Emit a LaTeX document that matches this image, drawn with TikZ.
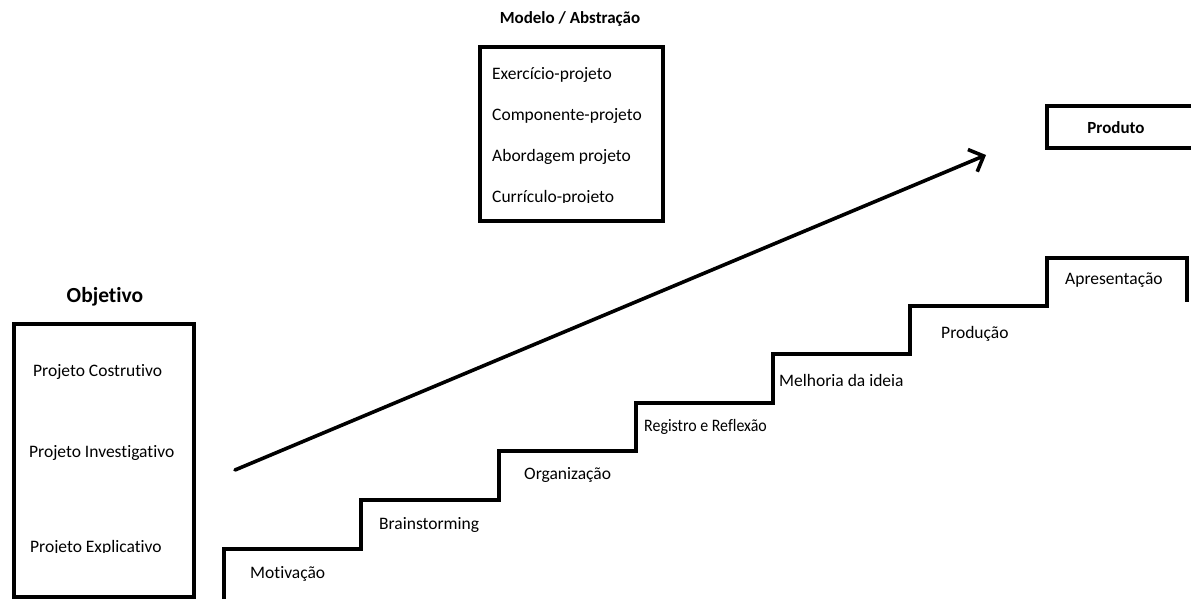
\documentclass[tikz,border=0pt]{standalone}
\usepackage{fontspec}
\setmainfont{Carlito}[Ligatures=NoCommon]
\usetikzlibrary{arrows.meta}
\begin{document}
\begin{tikzpicture}[x=1pt,y=-1pt,
  thick line/.style={line width=3.6pt},
  box/.style={draw,line width=3.6pt},
  item/.style={anchor=west,inner sep=0pt,font=\fontsize{17.5}{20}\selectfont},
  steplabel/.style={anchor=west,inner sep=0pt,font=\fontsize{17.5}{20}\selectfont},
  title/.style={inner sep=0pt,font=\bfseries\fontsize{17}{20}\selectfont}]
\useasboundingbox (0,0) rectangle (1191,599);
\fill[white] (0,0) rectangle (1191,599);
% Modelo / Abstracao
\node[title] (tmodel) at (570,19) {Modelo / Abstração};
\draw[box] (480,47) rectangle (663,221);
\node[item] (m1) at (492,75) {Exercício-projeto};
\node[item] (m2) at (492,116) {Componente-projeto};
\node[item] (m3) at (492,157) {Abordagem projeto};
\begin{scope}
\clip (482,180) rectangle (660,202);
\node[item] (m4) at (492,198) {Currículo-projeto};
\end{scope}
% Objetivo
\node[title,font=\bfseries\fontsize{21.5}{24}\selectfont] (tobj) at (105,297) {Objetivo};
\draw[box] (14,324) -- (194,324) -- (194,597) -- (14,597) -- cycle;
\node[item] (o1) at (33,372) {Projeto Costrutivo};
\node[item] (o2) at (29,453) {Projeto Investigativo};
\begin{scope}
\clip (20,530) rectangle (190,552);
\node[item] (o3) at (30,548) {Projeto Explicativo};
\end{scope}
% Produto
\draw[box] (1047,106) rectangle (1195,148);
\node[title] (prod) at (1116,128) {Produto};
% Arrow
\coordinate (a0) at (235,470);
\coordinate (a1) at (986,155);
\draw[thick line,line cap=round,-{Straight Barb[angle=90:17pt,line width=3.6pt]}] (a0) -- (a1);
% Stairs
\draw[thick line] (224,602) -- (224,549) -- (361,549) -- (361,500) -- (499,500) -- (499,451)
  -- (636,451) -- (636,403) -- (773,403) -- (773,354) -- (910,354) -- (910,306)
  -- (1047,306) -- (1047,258) -- (1187,258) -- (1187,302);
\node[steplabel] (s1) at (250,574) {Motivação};
\node[steplabel] (s2) at (379,525) {Brainstorming};
\node[steplabel] (s3) at (524,475) {Organização};
\node[steplabel,font=\fontsize{17.5}{20}\selectfont\addfontfeature{FakeStretch=0.91}] (s4) at (644,427) {Registro e Reflexão};
\node[steplabel] (s5) at (779,380) {Melhoria da ideia};
\node[steplabel] (s6) at (941,334) {Produção};
\node[steplabel] (s7) at (1065,280) {Apresentação};
\end{tikzpicture}
\end{document}
